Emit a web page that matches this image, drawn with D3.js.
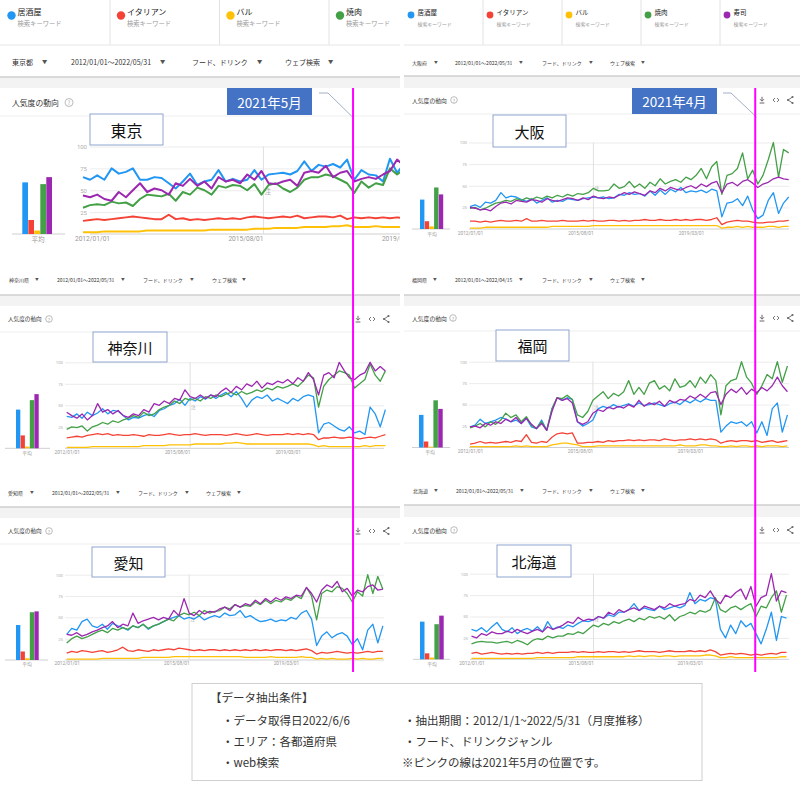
<!DOCTYPE html>
<html><head><meta charset="utf-8">
<script src="https://cdn.jsdelivr.net/npm/d3@7"></script>
<style>body{margin:0;background:#fff;}svg{display:block;font-family:"Noto Sans CJK JP","Noto Sans",sans-serif;}</style>
</head><body><svg id="c" width="800" height="786"></svg>
<script>
// ---------------- DATA ----------------
const keywords = ["居酒屋","イタリアン","バル","焼肉","寿司"];
const subLabel = "検索キーワード";
const regionNames = ["東京","大阪","神奈川","福岡","愛知","北海道"];
const prefNames = ["東京都","大阪府","神奈川県","福岡県","愛知県","北海道"];
const rangeLabels = ["2012/01/01～2022/05/31","2012/01/01～2022/05/31","2012/01/01～2022/05/31","2012/01/01～2022/04/15","2012/01/01～2022/05/31","2012/01/01～2022/05/31"];
const filterLabels = ["フード、ドリンク","ウェブ検索"];
const headerLabel = "人気度の動向";
const avgLabel = "平均";
const dateTickLabels = ["2012/01/01","2015/08/01","2019/03/01"];
const yTickValues = [25,50,75,100];
const calloutLabels = ["2021年5月","2021年4月"];
const noteDate = "2016/01/01";
const markDate = "2021/05/01";
const infoTitle = "【データ抽出条件】";
const infoLeft = ["・データ取得日2022/6/6","・エリア：各都道府県","・web検索"];
const infoRight = ["・抽出期間：2012/1/1~2022/5/31（月度推移）","・フード、ドリンクジャンル","※ピンクの線は2021年5月の位置です。"];

// bi-monthly values from 2012/01 (Tokyo panel is cropped at 2019)
const tky_izakaya  = [65,62,67,62,75,69,71,75,62,62,65,64,58,52,60,69,56,60,62,73,60,63,60,62,73,62,68,69,70,68,72,83,72,79,77,80,76,85,62,73,68,67,60,86,70,80];
const tky_italian  = [15,16,17,16,17,18,19,20,19,18,17,17,22,17,18,16,17,16,17,18,17,18,17,19,20,19,18,19,20,19,21,18,19,20,20,19,21,17,19,18,19,18,19,18,19,18];
const tky_bar      = [2,2,2,3,3,3,3,3,3,4,4,4,4,4,4,4,4,4,5,5,5,5,5,5,6,6,6,7,7,7,7,8,8,8,8,9,9,10,8,8,8,9,8,8,8,8];
const tky_yakiniku = [30,33,34,33,37,35,36,32,40,45,44,43,46,38,48,45,53,50,45,55,53,56,55,50,57,45,56,58,52,48,53,62,65,65,68,66,62,58,47,60,53,58,56,75,68,74];
const tky_sushi    = [44,42,45,40,38,48,42,50,58,48,52,50,45,58,55,63,55,60,52,65,60,62,58,68,62,72,58,57,60,62,55,70,72,70,78,65,70,72,60,63,65,63,68,72,85,78];

const osk_izakaya  = [26,28,25,31,30,33,42,36,38,37,34,32,35,30,33,36,31,33,32,35,34,33,35,36,37,36,37,35,36,40,39,42,40,41,38,44,39,45,40,46,43,48,42,44,43,45,42,46,44,14,30,31,35,27,38,22,12,16,33,42,18,30,37];
const osk_italian  = [9,9,8,9,8,9,10,9,9,10,9,12,9,9,10,9,9,9,10,9,9,9,10,9,10,9,9,10,10,9,10,9,10,10,11,10,10,11,10,10,11,10,11,10,11,11,10,11,13,5,8,9,10,9,9,8,7,7,8,8,9,9,10];
const osk_bar      = [1,1,1,2,2,2,2,2,2,2,2,2,2,2,2,2,3,3,3,3,3,3,3,3,4,4,4,4,4,4,4,4,4,4,4,4,4,4,4,4,4,4,4,4,4,4,4,4,4,1,2,2,3,2,3,2,2,2,3,3,2,3,3];
const osk_yakiniku = [24,25,22,24,27,30,31,33,32,35,33,36,34,37,35,38,36,39,37,40,38,41,40,42,47,44,44,45,52,47,49,55,48,52,47,54,50,58,52,55,57,54,60,57,62,70,58,72,78,40,62,64,70,88,58,68,52,62,80,100,60,92,88];
const osk_sushi    = [25,24,22,23,21,26,30,31,29,33,32,31,34,33,31,35,33,32,34,36,35,33,36,34,38,36,35,37,36,39,42,40,43,41,39,44,42,47,44,48,46,45,48,50,47,52,49,53,55,42,52,54,50,55,57,53,48,52,54,58,60,58,57];

const kng_izakaya  = [37,36,40,35,42,38,41,46,40,44,43,38,33,36,35,38,40,37,44,46,50,52,57,50,58,55,60,57,62,58,62,65,60,66,58,48,56,60,58,62,55,58,55,52,58,55,60,62,60,18,28,30,26,22,20,25,18,20,16,48,40,25,45];
const kng_italian  = [12,13,14,13,15,16,17,16,17,15,16,15,15,16,15,14,16,15,15,16,17,16,15,16,16,17,16,15,16,16,16,15,16,17,16,15,16,17,16,15,16,16,16,17,16,17,16,17,16,10,12,12,13,12,12,13,12,11,12,13,12,14,16];
const kng_bar      = [1,1,1,1,1,2,2,2,2,2,2,2,2,2,2,3,3,3,3,3,4,4,4,4,4,5,5,5,5,5,5,6,6,7,6,5,5,5,5,5,5,5,5,5,5,5,5,5,4,2,3,2,2,2,2,2,2,2,3,2,3,3,3];
const kng_yakiniku = [22,25,24,26,20,25,27,30,28,32,30,33,35,38,36,42,38,40,45,48,50,55,52,58,56,58,55,60,58,62,60,63,65,62,66,63,65,68,66,70,68,72,70,72,75,72,78,85,82,48,72,80,85,90,88,85,70,75,80,98,85,78,90];
const kng_sushi    = [42,38,35,40,33,38,52,42,45,40,44,38,36,40,38,45,42,52,50,55,52,58,56,68,60,58,62,58,62,60,66,70,65,72,68,75,72,78,70,76,74,78,76,80,75,82,78,88,80,62,85,88,82,100,90,82,80,85,88,100,90,95,90];

const fko_izakaya  = [24,26,33,28,30,32,35,33,30,32,28,34,24,22,32,20,45,58,55,58,56,30,25,28,32,45,48,46,50,47,49,51,48,52,49,50,52,50,48,51,53,50,55,52,56,53,57,55,55,18,25,30,28,30,25,30,17,30,14,45,52,18,38];
const fko_italian  = [4,5,7,5,6,5,6,7,6,8,7,15,6,5,7,6,12,16,17,16,17,5,5,6,6,7,6,8,7,8,8,9,8,9,8,9,9,8,10,9,8,9,9,10,9,10,9,10,9,5,7,8,7,8,8,7,8,6,7,8,6,7,8];
const fko_bar      = [1,1,1,1,1,1,1,1,1,2,1,2,1,1,1,1,3,4,5,5,4,3,1,1,1,2,2,2,2,2,2,2,2,2,2,2,2,2,2,2,2,3,2,2,2,3,3,2,2,1,1,2,1,2,2,1,2,1,2,2,2,1,2];
const fko_yakiniku = [23,25,28,24,30,27,32,40,35,38,30,36,26,22,30,20,45,58,57,61,56,38,35,42,55,60,65,57,63,60,65,78,62,70,62,75,78,68,72,66,80,70,72,78,70,82,75,85,78,38,72,78,80,100,82,75,62,72,85,80,100,76,95];
const fko_sushi    = [24,25,23,28,26,30,28,33,30,35,28,34,27,22,28,20,42,58,55,57,52,30,27,30,40,44,42,47,45,48,46,50,47,55,48,52,50,54,48,55,52,56,55,60,57,62,58,64,65,50,62,68,64,70,62,68,64,70,66,72,82,72,65];

const aic_izakaya  = [30,37,35,45,48,40,38,42,36,43,40,38,35,40,38,42,36,40,42,45,48,50,52,48,50,48,52,47,50,52,50,55,52,53,58,50,52,48,45,46,48,45,47,46,50,48,55,58,48,17,28,33,26,30,32,28,18,25,12,35,42,20,40];
const aic_italian  = [8,10,9,11,10,9,10,11,9,10,12,15,11,10,12,11,10,12,11,12,13,12,14,13,12,11,12,11,12,12,11,12,11,12,11,12,11,12,11,12,11,12,12,11,12,11,12,13,11,7,9,8,9,10,9,8,9,8,9,10,9,10,10];
const aic_bar      = [1,1,1,1,1,1,1,2,2,2,2,2,2,2,2,3,3,3,3,3,3,4,4,4,4,4,4,4,4,4,4,4,4,4,4,3,3,3,3,3,4,3,3,3,3,3,4,3,3,1,2,1,2,1,1,1,2,1,2,1,1,2,2];
const aic_yakiniku = [20,25,28,25,27,30,33,35,32,37,35,38,36,40,38,42,37,40,42,45,48,46,52,55,53,56,52,58,55,57,58,62,60,65,62,64,63,68,65,70,66,70,68,72,70,75,72,85,75,47,78,82,80,86,84,78,68,80,75,100,78,98,83];
const aic_sushi    = [30,29,32,28,30,33,35,38,40,45,38,42,40,55,43,46,48,50,47,50,48,58,52,72,55,52,58,54,57,56,60,62,58,65,62,66,64,70,66,72,68,73,70,74,72,76,75,85,78,68,82,88,85,92,80,84,75,82,80,86,88,82,83];

const hkd_izakaya  = [35,33,37,32,38,43,35,32,37,30,34,36,33,38,32,44,35,38,36,40,38,42,45,44,46,50,48,52,50,55,55,58,65,57,60,58,57,62,58,60,62,60,63,78,65,70,68,72,70,35,25,40,30,45,38,42,30,18,35,55,22,50,48];
const hkd_italian  = [7,8,6,7,8,7,6,7,6,7,6,7,7,8,7,8,7,8,8,8,9,8,9,8,8,9,8,9,9,8,9,8,9,10,9,9,9,8,9,10,9,9,9,10,9,10,9,11,9,5,6,7,6,7,6,5,6,5,6,7,6,8,8];
const hkd_bar      = [1,1,1,1,1,1,1,1,1,1,1,1,1,2,2,2,2,2,2,2,2,3,3,3,3,3,3,3,3,3,3,4,3,4,3,4,4,3,4,4,3,4,4,4,4,4,5,5,4,2,2,3,2,2,2,2,2,2,2,2,2,3,3];
const hkd_yakiniku = [18,20,21,20,20,19,20,21,19,22,20,17,22,24,23,27,25,27,27,30,29,32,30,35,40,38,42,40,44,42,45,47,44,48,46,50,48,50,47,52,45,50,52,55,53,57,55,58,72,58,55,60,62,58,62,65,50,62,60,72,80,55,75];
const hkd_sushi    = [27,25,30,28,32,30,30,33,31,35,32,30,33,35,32,38,35,37,40,44,42,49,45,47,46,50,48,55,52,58,55,58,60,57,62,60,58,62,60,65,62,64,65,70,68,75,72,80,70,65,75,72,78,82,70,85,62,72,75,100,68,80,78];

// averages shown in the small bar charts
const avgTokyo    = [59,16,4,57,65];
const avgOsaka    = [34,9,3,48,40];
const avgKanagawa = [45,15,2,56,63];
const avgFukuoka  = [38,7,1,55,45];
const avgAichi    = [41,10,2,56,57];
const avgHokkaido = [44,7,2,41,51];

// ---------------- STYLE / LAYOUT ----------------
const colors = ["#2196f3","#f44336","#ffc107","#43a047","#9c27b0"];
const START = new Date(2012,0,1), END = new Date(2022,4,1), STEP = 2;
const parse = d3.timeParse("%Y/%m/%d");
const svg = d3.select("#c");
const defs = svg.append("defs");
defs.append("clipPath").attr("id","clipL").append("rect").attr("x",0).attr("y",0).attr("width",400).attr("height",786);

const small = {legend:null};
const panels = [
 {i:0, x0:0, x1:400, clip:true, series:[tky_izakaya,tky_italian,tky_bar,tky_yakiniku,tky_sushi], avg:avgTokyo,
  legend:{x0:0.5,w:109.5,h:45,dotX:11,dotY:15.5,r:4.2,tx:17,nameY:11.5,subY:23.5,nameSize:8,subSize:6.3},
  filter:{y:62,size:7,pos:[[12,42],[71,160],[192,257],[285,328]]},
  sepY:77,bandTo:88, header:{y:102.5,x:12,size:7.8,infoX:69,infoR:4,icons:null}, divY:116,
  plot:{x0:83,ppm:3.57,yTop:146.5,yBase:234,gx0:90,gx1:400,yLabX:87,yLabSize:6,dateY:238.5,dateSize:6.6,shift:9,lw:2},
  bars:{x:22.3,w:6,ax0:12,ax1:65,lx:38,ly:239,ls:6.6},
  box:{x:90,y:114,w:73,h:31,size:16}},
 {i:1, x0:404, x1:800, series:[osk_izakaya,osk_italian,osk_bar,osk_yakiniku,osk_sushi], avg:avgOsaka,
  legend:{x0:404,w:79,h:45,dotX:7,dotY:15,r:3.4,tx:13.5,nameY:11.5,subY:23,nameSize:6.5,subSize:4.9},
  filter:{y:62,size:5,pos:[[412,434],[455,519],[542,589],[610,641]]},
  sepY:76,bandTo:88, header:{y:100,x:412,size:5.8,infoX:454,infoR:3.3,icons:[762,776,790]}, divY:114,
  plot:{x0:470,ppm:2.57,yTop:142.5,yBase:229,gx0:469,gx1:789,yLabX:467,yLabSize:4.3,dateY:233.3,dateSize:4.8,shift:0,lw:1.3},
  bars:{x:420,w:4.7,ax0:412,ax1:450,lx:432,ly:233.3,ls:4.8},
  box:{x:493,y:115,w:73,h:32,size:15}},
 {i:2, x0:0, x1:400, series:[kng_izakaya,kng_italian,kng_bar,kng_yakiniku,kng_sushi], avg:avgKanagawa, legend:null,
  filter:{y:279,size:5,pos:[[9,35],[57,121],[143,190],[212,242]]},
  sepY:295,bandTo:306, header:{y:319,x:8,size:5.6,infoX:49,infoR:3.3,icons:[358,372,386]}, divY:332,
  plot:{x0:66.7,ppm:2.57,yTop:362.3,yBase:448.3,gx0:65,gx1:384,yLabX:63,yLabSize:4.3,dateY:452.7,dateSize:4.8,shift:0,lw:1.3},
  bars:{x:16,w:4.6,ax0:5,ax1:50,lx:27,ly:452.7,ls:4.8},
  box:{x:93,y:332,w:74,h:30,size:15}},
 {i:3, x0:404, x1:800, series:[fko_izakaya,fko_italian,fko_bar,fko_yakiniku,fko_sushi], avg:avgFukuoka, legend:null,
  filter:{y:279,size:5,pos:[[412,433],[455,519],[542,589],[610,641]]},
  sepY:295,bandTo:306, header:{y:318,x:412,size:5.8,infoX:453,infoR:3.3,icons:[762,776,790]}, divY:331,
  plot:{x0:470,ppm:2.56,yTop:361.7,yBase:447.5,gx0:469,gx1:789,yLabX:467,yLabSize:4.3,dateY:451.7,dateSize:4.8,shift:0,lw:1.3},
  bars:{x:419,w:4.8,ax0:412,ax1:450,lx:430,ly:451.7,ls:4.8},
  box:{x:496,y:330,w:73,h:31,size:15}},
 {i:4, x0:0, x1:400, series:[aic_izakaya,aic_italian,aic_bar,aic_yakiniku,aic_sushi], avg:avgAichi, legend:null,
  filter:{y:492,size:5,pos:[[8,30],[52,116],[138,185],[206,237]]},
  sepY:507,bandTo:518, header:{y:531,x:8,size:5.6,infoX:49,infoR:3.3,icons:[358,372,386]}, divY:544,
  plot:{x0:66.7,ppm:2.55,yTop:574.7,yBase:660,gx0:65,gx1:384,yLabX:63,yLabSize:4.3,dateY:663.5,dateSize:4.8,shift:0,lw:1.3},
  bars:{x:16,w:4.6,ax0:5,ax1:48,lx:27,ly:663.5,ls:4.8},
  box:{x:92,y:547,w:73,h:30,size:15}},
 {i:5, x0:404, x1:800, series:[hkd_izakaya,hkd_italian,hkd_bar,hkd_yakiniku,hkd_sushi], avg:avgHokkaido, legend:null,
  filter:{y:490,size:5,pos:[[413,434],[456,520],[542,589],[610,641]]},
  sepY:505,bandTo:517, header:{y:530,x:412,size:5.8,infoX:454,infoR:3.3,icons:[762,776,790]}, divY:543,
  plot:{x0:471.5,ppm:2.54,yTop:573.7,yBase:659.3,gx0:470,gx1:789,yLabX:468,yLabSize:4.3,dateY:663,dateSize:4.8,shift:0,lw:1.3},
  bars:{x:420,w:4.8,ax0:413,ax1:450,lx:432,ly:663,ls:4.8},
  box:{x:497,y:545,w:74,h:32,size:15}}
];
const scales = {};

function drawIcons(g, xs, y){
  const [a,b,c] = xs;
  g.append("path").attr("d",`M${a},${y-3.2}V${y+1}M${a-2},${y-0.8}L${a},${y+1.2}L${a+2},${y-0.8}M${a-2.4},${y+3}H${a+2.4}`).attr("stroke","#666").attr("stroke-width",1).attr("fill","none");
  g.append("path").attr("d",`M${b-1},${y-2}L${b-3},${y}L${b-1},${y+2}M${b+1},${y-2}L${b+3},${y}L${b+1},${y+2}`).attr("stroke","#666").attr("stroke-width",0.9).attr("fill","none");
  g.append("path").attr("d",`M${c+2.5},${y-3}L${c-2},${y}L${c+2.5},${y+3}`).attr("stroke","#666").attr("stroke-width",0.9).attr("fill","none");
  [[c+2.5,y-3],[c-2,y],[c+2.5,y+3]].forEach(([px,py])=>g.append("circle").attr("cx",px).attr("cy",py).attr("r",1.1).attr("fill","#666"));
}

function drawPanel(p){
  const g = svg.append("g");
  if(p.clip) g.attr("clip-path","url(#clipL)");
  // legend cards
  if(p.legend){
    const L = p.legend;
    keywords.forEach((k,i)=>{
      const cx = L.x0 + i*L.w;
      if(i>0) g.append("line").attr("x1",cx).attr("x2",cx).attr("y1",0).attr("y2",L.h).attr("stroke","#e2e2e2");
      g.append("circle").attr("cx",cx+L.dotX).attr("cy",L.dotY).attr("r",L.r).attr("fill",colors[i]);
      g.append("text").attr("x",cx+L.tx).attr("y",L.nameY).attr("dominant-baseline","central").attr("font-size",L.nameSize).attr("fill","#222").text(k);
      g.append("text").attr("x",cx+L.tx).attr("y",L.subY).attr("dominant-baseline","central").attr("font-size",L.subSize).attr("fill","#9a9a9a").text(subLabel);
    });
    g.append("line").attr("x1",p.x0).attr("x2",p.x1).attr("y1",L.h).attr("y2",L.h).attr("stroke","#e6e6e6");
  }
  // filter row
  const fl = [prefNames[p.i], rangeLabels[p.i], filterLabels[0], filterLabels[1]];
  p.filter.pos.forEach(([tx,ax],j)=>{
    g.append("text").attr("x",tx).attr("y",p.filter.y).attr("dominant-baseline","central").attr("font-size",p.filter.size).attr("fill","#333").text(fl[j]);
    g.append("text").attr("x",ax).attr("y",p.filter.y).attr("dominant-baseline","central").attr("font-size",p.filter.size*0.75).attr("fill","#555").text("▼");
  });
  // separator band
  g.append("rect").attr("x",p.x0).attr("y",p.sepY).attr("width",p.x1-p.x0).attr("height",p.bandTo-p.sepY).attr("fill","#f3f3f3");
  g.append("line").attr("x1",p.x0).attr("x2",p.x1).attr("y1",p.sepY).attr("y2",p.sepY).attr("stroke","#cfcfcf").attr("stroke-width",1.6);
  // header
  const H = p.header;
  g.append("text").attr("x",H.x).attr("y",H.y).attr("dominant-baseline","central").attr("font-size",H.size).attr("fill","#333").text(headerLabel);
  g.append("circle").attr("cx",H.infoX).attr("cy",H.y).attr("r",H.infoR).attr("fill","none").attr("stroke","#aaa").attr("stroke-width",0.8);
  g.append("text").attr("x",H.infoX).attr("y",H.y+0.3).attr("text-anchor","middle").attr("dominant-baseline","central").attr("font-size",H.infoR*1.5).attr("fill","#aaa").text("?");
  if(H.icons) drawIcons(g,H.icons,H.y);
  g.append("line").attr("x1",p.x0).attr("x2",p.x1).attr("y1",p.divY).attr("y2",p.divY).attr("stroke","#eeeeee");

  // scales
  const P = p.plot;
  const x = d3.scaleTime().domain([START,END]).range([P.x0, P.x0 + 124*P.ppm]);
  const y = d3.scaleLinear().domain([0,100]).range([P.yBase, P.yTop]);
  scales[p.i] = x;
  // y axis with grid
  const ya = g.append("g").attr("transform",`translate(${P.gx0},0)`)
    .call(d3.axisLeft(y).tickValues(yTickValues).tickSize(-(P.gx1-P.gx0)).tickPadding(P.gx0-P.yLabX));
  ya.select(".domain").remove();
  ya.selectAll(".tick line").attr("stroke","#ececec");
  ya.selectAll(".tick text").attr("fill","#b0b0b0").attr("font-size",P.yLabSize).attr("font-family","Roboto, sans-serif");
  // baseline
  g.append("line").attr("x1",P.gx0).attr("x2",P.gx1).attr("y1",y(0)).attr("y2",y(0)).attr("stroke","#cfcfcf");
  // note line
  const nx = x(parse(noteDate)) + P.shift;
  g.append("line").attr("x1",nx).attr("x2",nx).attr("y1",y(100)).attr("y2",y(0)).attr("stroke","#e0e0e0");
  g.append("text").attr("x",nx+1).attr("y",y(50)+4).attr("font-size",P.yLabSize+0.5).attr("fill","#aaa").text("注");
  // x axis labels
  const xa = g.append("g").attr("transform",`translate(${P.shift},${P.dateY})`)
    .call(d3.axisBottom(x).tickValues(dateTickLabels.map(parse)).tickFormat((d,i)=>dateTickLabels[i]).tickSize(0).tickPadding(0));
  xa.select(".domain").remove();
  xa.selectAll(".tick text").attr("fill","#999").attr("font-size",P.dateSize).attr("font-family","Roboto, sans-serif").attr("dy","0.35em");
  // lines
  const order = [2,1,0,3,4];
  order.forEach(si=>{
    const vals = p.series[si];
    const pts = vals.map((v,k)=>[d3.timeMonth.offset(START,k*STEP), v]);
    g.append("path").datum(pts)
      .attr("d", d3.line().x(d=>x(d[0])).y(d=>y(d[1])))
      .attr("fill","none").attr("stroke",colors[si]).attr("stroke-width",P.lw).attr("stroke-linejoin","round");
  });
  // bars
  const B = p.bars;
  const bx = d3.scaleBand().domain(keywords).range([B.x, B.x + 5*B.w]).paddingInner(0);
  g.append("line").attr("x1",B.ax0).attr("x2",B.ax1).attr("y1",y(0)).attr("y2",y(0)).attr("stroke","#cfcfcf");
  g.selectAll(null).data(p.avg).join("rect")
    .attr("x",(d,i)=>bx(keywords[i])).attr("width",bx.bandwidth()-0.3)
    .attr("y",d=>y(d)).attr("height",d=>y(0)-y(d)).attr("fill",(d,i)=>colors[i]);
  g.append("text").attr("x",B.lx).attr("y",B.ly).attr("text-anchor","middle").attr("dominant-baseline","central").attr("font-size",B.ls).attr("fill","#999").text(avgLabel);
  // region label box
  const R = p.box;
  g.append("rect").attr("x",R.x).attr("y",R.y).attr("width",R.w).attr("height",R.h).attr("fill","#fff").attr("stroke","#8fa4cf").attr("stroke-width",1);
  g.append("text").attr("x",R.x+R.w/2).attr("y",R.y+R.h/2).attr("text-anchor","middle").attr("dominant-baseline","central").attr("font-size",R.size).attr("fill","#111").text(regionNames[p.i]);
}
panels.forEach(drawPanel);

// callout boxes
const callouts = [
  {x:227,y:88,w:85,h:27,lx0:319,lx1:328,ly:93,tx:352.5,ty:117},
  {x:632,y:88,w:85,h:26,lx0:723,lx1:731,ly:93,tx:756.5,ty:117}
];
callouts.forEach((c,i)=>{
  svg.append("rect").attr("x",c.x).attr("y",c.y).attr("width",c.w).attr("height",c.h).attr("fill","#4472c4");
  svg.append("text").attr("x",c.x+c.w/2).attr("y",c.y+c.h/2).attr("text-anchor","middle").attr("dominant-baseline","central").attr("font-size",13.5).attr("fill","#fff").text(calloutLabels[i]);
  svg.append("path").attr("d",`M${c.lx0},${c.ly}H${c.lx1}L${c.tx},${c.ty}`).attr("fill","none").attr("stroke","#8a9ab8").attr("stroke-width",0.8);
});

// pink marker lines (2021/05 position on left & right panel scales)
[scales[2], scales[3]].forEach(sx=>{
  const px = sx(parse(markDate)) - 1.5;
  svg.append("line").attr("x1",px).attr("x2",px).attr("y1",88).attr("y2",672).attr("stroke","#ff00ff").attr("stroke-width",2);
});

// info box
svg.append("rect").attr("x",192).attr("y",683.5).attr("width",510).attr("height",97).attr("fill","#fff").attr("stroke","#cfcfcf");
const infoFont = 11.5;
svg.append("text").attr("x",210).attr("y",697).attr("dominant-baseline","central").attr("font-size",infoFont).attr("fill","#333").text(infoTitle);
infoLeft.forEach((t,i)=>svg.append("text").attr("x",222).attr("y",720+i*21).attr("dominant-baseline","central").attr("font-size",infoFont).attr("fill","#333").text(t));
infoRight.forEach((t,i)=>svg.append("text").attr("x",i<2?404:402).attr("y",720+i*21).attr("dominant-baseline","central").attr("font-size",infoFont).attr("fill","#333").text(t));
</script></body></html>
